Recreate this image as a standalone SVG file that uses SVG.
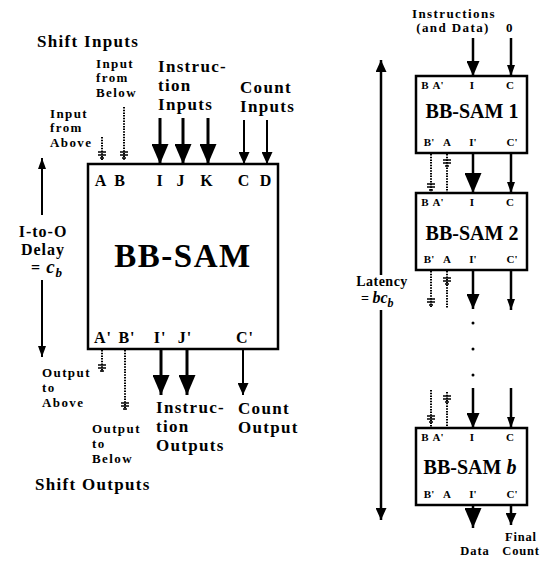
<svg xmlns="http://www.w3.org/2000/svg" width="544" height="562" viewBox="0 0 544 562">
<style>
.t{font-family:"Liberation Serif","Times New Roman",serif;font-weight:bold;fill:#000}
.h{font-size:17px;letter-spacing:1.3px}
.s{font-size:13px;letter-spacing:1.4px}
.p{font-size:16px;letter-spacing:1px}
.r{font-size:11px}
.c{text-anchor:middle}
.ln{stroke:#000;fill:none}
.dot{stroke:#000;stroke-width:2;stroke-dasharray:1.5 1.2;fill:none}
.box{fill:#fff;stroke:#000;stroke-width:2.5}
</style>
<defs>
<marker id="big" markerUnits="userSpaceOnUse" viewBox="0 0 20 17" refX="20" refY="8.5" markerWidth="20" markerHeight="17" orient="auto"><path d="M0,0L20,8.5L0,17z"/></marker>
<marker id="med" markerUnits="userSpaceOnUse" viewBox="0 0 15 13" refX="15" refY="6.5" markerWidth="15" markerHeight="13" orient="auto"><path d="M0,0L15,6.5L0,13z"/></marker>
<marker id="sm" markerUnits="userSpaceOnUse" viewBox="0 0 12 11" refX="12" refY="5.5" markerWidth="12" markerHeight="11" orient="auto"><path d="M0,0L12,5.5L0,11z"/></marker>
<marker id="xs" markerUnits="userSpaceOnUse" viewBox="0 0 11 8" refX="11" refY="4" markerWidth="11" markerHeight="8" orient="auto"><path d="M0,0L11,4L0,8z"/></marker>
<g id="gnd" stroke="#000" stroke-width="1.6"><path d="M-4,0h8M-4,3h8M-2,6h4"/></g>
</defs>

<!-- Left diagram -->
<g id="bbsam">
<rect class="box" x="88" y="164" width="190" height="185"/>
<text class="t" x="183" y="267" font-size="33" text-anchor="middle" letter-spacing="1.5">BB-SAM</text>
<g class="t p c">
<text x="101" y="186">A</text><text x="120" y="186">B</text>
<text x="160" y="186">I</text><text x="181" y="186">J</text><text x="207" y="186">K</text>
<text x="244" y="186">C</text><text x="266" y="186">D</text>
<text x="103" y="343">A'</text><text x="127" y="343">B'</text>
<text x="160" y="343">I'</text><text x="185" y="343">J'</text><text x="245" y="343">C'</text>
</g>
</g>

<g id="labels-left" class="t">
<text class="h" x="37" y="47">Shift Inputs</text>
<text class="s" x="96" y="68">Input</text>
<text class="s" x="96" y="82">from</text>
<text class="s" x="96" y="97">Below</text>
<text class="s" x="50" y="118">Input</text>
<text class="s" x="50" y="132">from</text>
<text class="s" x="50" y="147">Above</text>
<text class="h" x="158" y="72">Instruc-</text>
<text class="h" x="158" y="91">tion</text>
<text class="h" x="158" y="110">Inputs</text>
<text class="h" x="240" y="93">Count</text>
<text class="h" x="240" y="112">Inputs</text>
<text class="p c" x="43" y="237" letter-spacing="1.5">I-to-O</text>
<text class="p c" x="43" y="255" letter-spacing="1.5">Delay</text>
<text class="p" x="31" y="273">= <tspan font-style="italic" font-size="19">c</tspan><tspan font-style="italic" font-size="13" dy="4">b</tspan></text>
<text class="s" x="42" y="377">Output</text>
<text class="s" x="42" y="392">to</text>
<text class="s" x="42" y="407">Above</text>
<text class="s" x="92" y="433">Output</text>
<text class="s" x="92" y="448">to</text>
<text class="s" x="92" y="463">Below</text>
<text class="h" x="35" y="490">Shift Outputs</text>
<text class="h" x="156" y="413">Instruc-</text>
<text class="h" x="156" y="432">tion</text>
<text class="h" x="156" y="451">Outputs</text>
<text class="h" x="238" y="414">Count</text>
<text class="h" x="238" y="433">Output</text>
</g>

<!-- Right diagram -->
<g id="sam1">
<rect class="box" x="416" y="76" width="111" height="77"/>
<g class="t r c"><text x="425" y="89">B</text><text x="438" y="89">A'</text><text x="472" y="89">I</text><text x="510" y="89">C</text>
<text x="429" y="146">B'</text><text x="447" y="146">A</text><text x="473" y="146">I'</text><text x="512" y="146">C'</text></g>
<text class="t c" x="472" y="118" font-size="20">BB-SAM 1</text>
</g>
<g id="sam2">
<rect class="box" x="416" y="193" width="111" height="77"/>
<g class="t r c"><text x="425" y="206">B</text><text x="438" y="206">A'</text><text x="472" y="206">I</text><text x="510" y="206">C</text>
<text x="429" y="263">B'</text><text x="447" y="263">A</text><text x="473" y="263">I'</text><text x="512" y="263">C'</text></g>
<text class="t c" x="472" y="240" font-size="20">BB-SAM 2</text>
</g>
<g id="samb">
<rect class="box" x="416" y="428" width="111" height="77"/>
<g class="t r c"><text x="425" y="441">B</text><text x="438" y="441">A'</text><text x="472" y="441">I</text><text x="510" y="441">C</text>
<text x="429" y="498">B'</text><text x="447" y="498">A</text><text x="473" y="498">I'</text><text x="512" y="498">C'</text></g>
<text class="t c" x="470" y="474" font-size="20">BB-SAM <tspan font-style="italic">b</tspan></text>
</g>

<g id="labels-right" class="t">
<text class="s c" x="454" y="18" letter-spacing="0.6">Instructions</text>
<text class="s c" x="453" y="32" letter-spacing="0.6">(and Data)</text>
<text class="s c" x="510" y="32">0</text>
<text class="c" x="382" y="286" font-size="14" letter-spacing="0.5">Latency</text>
<text x="361" y="303" font-size="14">= <tspan font-style="italic" font-size="16">bc</tspan><tspan font-style="italic" font-size="12" dy="4">b</tspan></text>
<text class="c" x="475" y="555" font-size="12.5" letter-spacing="0.9">Data</text>
<text class="c" x="521" y="541" font-size="12.5" letter-spacing="0.8">Final</text>
<text class="c" x="521" y="555" font-size="12.5" letter-spacing="0.8">Count</text>
</g>

<g id="connectors">
<!-- left inputs -->
<path class="ln" stroke-width="3" d="M160,118V164" marker-end="url(#big)"/>
<path class="ln" stroke-width="3" d="M183,118V164" marker-end="url(#big)"/>
<path class="ln" stroke-width="3" d="M208,118V164" marker-end="url(#big)"/>
<path class="ln" stroke-width="2" d="M244,120V164" marker-end="url(#sm)"/>
<path class="ln" stroke-width="2" d="M267,120V164" marker-end="url(#sm)"/>
<path class="dot" d="M102,137V160M124,107V160"/>
<use href="#gnd" x="102" y="152"/>
<use href="#gnd" x="124" y="152"/>
<!-- delay arrow -->
<path class="ln" stroke-width="2" d="M42,215V158" marker-end="url(#xs)"/>
<path class="ln" stroke-width="2" d="M42,280V357" marker-end="url(#xs)"/>
<!-- left outputs -->
<path class="ln" stroke-width="3" d="M161,349V395" marker-end="url(#big)"/>
<path class="ln" stroke-width="3" d="M187,349V395" marker-end="url(#big)"/>
<path class="ln" stroke-width="2" d="M243,349V395" marker-end="url(#sm)"/>
<path class="dot" d="M102,350V372M125,350V410"/>
<use href="#gnd" x="102" y="365"/>
<use href="#gnd" x="125" y="403"/>

<!-- right: latency -->
<path class="ln" stroke-width="2.5" d="M381,275V60" marker-end="url(#sm)"/>
<path class="ln" stroke-width="2.5" d="M381,310V520" marker-end="url(#sm)"/>
<!-- into box 1 -->
<path class="ln" stroke-width="2.5" d="M473,38V76" marker-end="url(#med)"/>
<path class="ln" stroke-width="2.5" d="M511,38V76" marker-end="url(#xs)"/>
<!-- box1 to box2 -->
<path class="ln" stroke-width="2.5" d="M473,154V193" marker-end="url(#big)"/>
<path class="ln" stroke-width="2.5" d="M511,154V193" marker-end="url(#xs)"/>
<path class="dot" d="M431,154V192M447,154V192"/>
<use href="#gnd" x="431" y="184"/>
<use href="#gnd" x="447" y="160"/>
<!-- below box2 -->
<path class="ln" stroke-width="2.5" d="M473,271V309" marker-end="url(#med)"/>
<path class="ln" stroke-width="2.5" d="M511,271V310" marker-end="url(#xs)"/>
<path class="dot" d="M431,271V307M447,271V308"/>
<use href="#gnd" x="431" y="299"/>
<use href="#gnd" x="447" y="278"/>
<circle cx="473" cy="323" r="1.5"/>
<circle cx="473" cy="349" r="1.5"/>
<circle cx="473" cy="375" r="1.5"/>
<!-- into box b -->
<path class="ln" stroke-width="2.5" d="M473,388V428" marker-end="url(#med)"/>
<path class="ln" stroke-width="2.5" d="M511,388V428" marker-end="url(#xs)"/>
<path class="dot" d="M431,390V427M447,392V427"/>
<use href="#gnd" x="431" y="416"/>
<use href="#gnd" x="447" y="396"/>
<!-- out of box b -->
<path class="ln" stroke-width="2.5" d="M473,506V528" marker-end="url(#big)"/>
<path class="ln" stroke-width="2.5" d="M511,506V525" marker-end="url(#sm)"/>
</g>
</svg>
